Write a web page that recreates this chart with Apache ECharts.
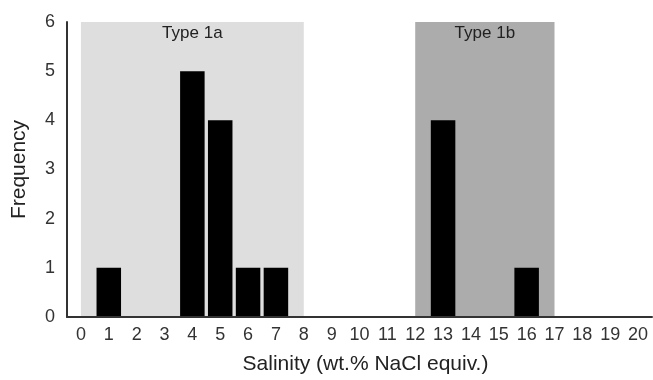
<!DOCTYPE html>
<html>
<head>
<meta charset="utf-8">
<script src="https://cdn.jsdelivr.net/npm/echarts@6/dist/echarts.min.js"></script>
<style>html,body{margin:0;padding:0;background:#fff;}#chart{width:653px;height:380px;}</style>
</head>
<body>
<div id="chart"></div>
<script>
const categories = ['0','1','2','3','4','5','6','7','8','9','10','11','12','13','14','15','16','17','18','19','20'];
const frequency = [0,1,0,0,5,4,1,1,0,0,0,0,0,4,0,0,1,0,0,0,0];
const yTicks = [0,1,2,3,4,5,6];
const zoneNames = ['Type 1a', 'Type 1b'];
const zoneFrom = [0, 12];
const zoneTo = [8, 17];
const zoneColors = ['#dedede', '#acacac'];

const font = 'Liberation Sans, Arial, sans-serif';
const chart = echarts.init(document.getElementById('chart'), null, { renderer: 'canvas' });
chart.setOption({
  animation: false,
  textStyle: { fontFamily: font },
  grid: { left: 67, right: 1, top: 22, bottom: 62, containLabel: false },
  xAxis: [{
    type: 'category',
    data: categories,
    name: 'Salinity (wt.% NaCl equiv.)',
    nameLocation: 'middle',
    nameGap: 37,
    nameTextStyle: { fontSize: 21, color: '#222', fontFamily: font, padding: [0, 0, 0, 12] },
    axisLine: { onZero: false, lineStyle: { color: '#333', width: 2 } },
    axisTick: { show: false },
    axisLabel: { fontSize: 18, color: '#333', margin: 9, fontFamily: font, interval: 0 },
    z: 5
  }, {
    type: 'value',
    min: -0.5,
    max: categories.length - 0.5,
    show: false
  }],
  yAxis: {
    type: 'value',
    min: yTicks[0],
    max: yTicks[yTicks.length - 1],
    interval: 1,
    name: 'Frequency',
    nameLocation: 'middle',
    nameGap: 37,
    nameTextStyle: { fontSize: 21, color: '#222', fontFamily: font },
    axisLine: { show: true, onZero: false, lineStyle: { color: '#333', width: 2 } },
    axisTick: { show: false },
    splitLine: { show: false },
    axisLabel: { fontSize: 18, color: '#333', margin: 12, fontFamily: font },
    z: 5
  },
  series: [{
    type: 'line',
    xAxisIndex: 1,
    data: [],
    z: 1,
    markArea: {
      silent: true,
      data: zoneNames.map((n, i) => [
        { xAxis: zoneFrom[i], yAxis: 0, name: n, itemStyle: { color: zoneColors[i] } },
        { xAxis: zoneTo[i], yAxis: 6.05 }
      ]),
      label: { show: true, position: 'insideTop', distance: 3, fontSize: 17, color: '#222', fontFamily: font }
    }
  }, {
    type: 'bar',
    data: frequency,
    barCategoryGap: '12%',
    z: 3,
    itemStyle: { color: '#000', borderWidth: 0 }
  }]
});
</script>
</body>
</html>
